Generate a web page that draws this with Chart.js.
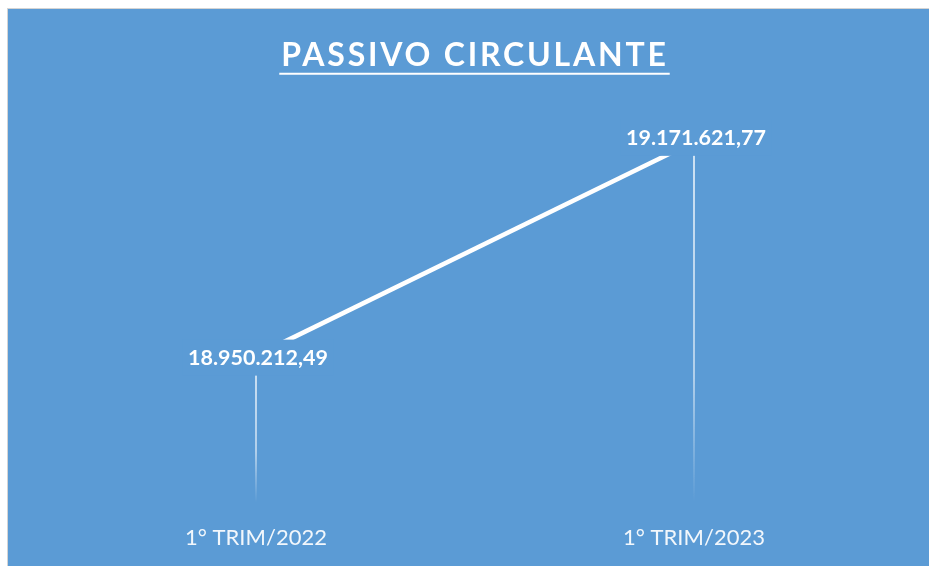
<!DOCTYPE html>
<html>
<head>
<meta charset="utf-8">
<title>Passivo Circulante</title>
<script src="https://cdn.jsdelivr.net/npm/chart.js@4.4.0/dist/chart.umd.min.js"></script>
<style>
    html, body { margin: 0; padding: 0; background: #ffffff; overflow: hidden; }
    #frame {
        position: absolute; left: 7px; top: 8px;
        width: 930px; height: 566px;
        border-top: 1px solid #d4d4d4; border-left: 1px solid #d4d4d4;
        background: #5B9BD5;
    }
    #chart { display: block; }
</style>
</head>
<body>
<div id="frame"><canvas id="chart" width="921" height="557"></canvas></div>
<script>
    "use strict";

    // Data
    const categories = ['1° TRIM/2022', '1° TRIM/2023'];
    const passivoValues = [18950212.49, 19171621.77];
    const yMin = 18798000;
    const yMax = 19216000;

    const BG = '#5B9BD5';
    // vertical shift of each value label from its point (px)
    const labelShift = [2, -4];

    // 18950212.49 -> "18.950.212,49"
    function fmtBR(v) {
        const parts = v.toFixed(2).split('.');
        return parts[0].replace(/\B(?=(\d{3})+(?!\d))/g, '.') + ',' + parts[1];
    }

    // Title spacing, drop lines, value labels and title underline
    const decor = {
        id: 'decor',
        beforeDraw(chart) {
            chart.ctx.letterSpacing = '2.8px';
        },
        beforeDatasetsDraw(chart) {
            const ctx = chart.ctx;
            ctx.letterSpacing = '0px';
            const bottom = chart.chartArea.bottom;
            chart.getDatasetMeta(0).data.forEach(function (pt) {
                const g = ctx.createLinearGradient(0, pt.y, 0, bottom);
                g.addColorStop(0, 'rgba(255,255,255,0.95)');
                g.addColorStop(0.65, 'rgba(255,255,255,0.7)');
                g.addColorStop(1, 'rgba(255,255,255,0)');
                ctx.save();
                ctx.strokeStyle = g;
                ctx.lineWidth = 1.5;
                ctx.beginPath();
                ctx.moveTo(pt.x, pt.y);
                ctx.lineTo(pt.x, bottom);
                ctx.stroke();
                ctx.restore();
            });
        },
        afterDatasetsDraw(chart) {
            const ctx = chart.ctx;
            ctx.save();
            ctx.font = 'bold 21.5px Lato';
            ctx.textAlign = 'center';
            ctx.textBaseline = 'middle';
            chart.getDatasetMeta(0).data.forEach(function (pt, i) {
                const txt = fmtBR(passivoValues[i]);
                const w = ctx.measureText(txt).width + 12;
                const cx = pt.x + 2, cy = pt.y + labelShift[i];
                ctx.fillStyle = BG;
                ctx.fillRect(cx - w / 2, cy - 18, w, 36);
                ctx.fillStyle = '#ffffff';
                ctx.fillText(txt, cx, cy);
            });
            ctx.restore();
        },
        afterDraw(chart) {
            const tb = chart.titleBlock;
            const opts = chart.options.plugins.title;
            const ctx = chart.ctx;
            ctx.save();
            ctx.font = 'bold 32px Lato';
            ctx.letterSpacing = '2.8px';
            const w = ctx.measureText(opts.text).width;
            ctx.letterSpacing = '0px';
            const cx = (tb.left + tb.right) / 2;
            const y = tb.top + opts.padding.top + 32 * 1.2 / 2 + 18.5;
            ctx.strokeStyle = '#ffffff';
            ctx.lineWidth = 2;
            ctx.beginPath();
            ctx.moveTo(cx - w / 2 - 2, y);
            ctx.lineTo(cx + w / 2 + 1, y);
            ctx.stroke();
            ctx.restore();
        }
    };

    const ctx = document.getElementById('chart').getContext('2d');
    const myChart = new Chart(ctx, {
        type: 'line',
        data: {
            labels: categories,
            datasets: [{
                label: 'Passivo Circulante',
                data: passivoValues,
                borderColor: '#ffffff',
                borderWidth: 4.5,
                pointRadius: 0,
                pointHoverRadius: 0,
                tension: 0,
                fill: false
            }]
        },
        options: {
            responsive: false,
            animation: false,
            layout: {
                padding: { left: 29, right: 16, top: 0, bottom: -7 }
            },
            plugins: {
                legend: { display: false },
                tooltip: { enabled: false },
                title: {
                    display: true,
                    text: 'PASSIVO CIRCULANTE',
                    color: '#ffffff',
                    font: { family: 'Lato', size: 32, weight: 'bold' },
                    padding: { top: 27, bottom: 24.6 }
                }
            },
            scales: {
                x: {
                    offset: true,
                    grid: { display: false, drawTicks: false },
                    border: { display: false },
                    ticks: {
                        z: 1,
                        padding: 22,
                        color: 'rgba(255,255,255,0.92)',
                        font: { family: 'Lato', size: 22 }
                    }
                },
                y: {
                    display: false,
                    min: yMin,
                    max: yMax
                }
            }
        },
        plugins: [decor]
    });
</script>
</body>
</html>
